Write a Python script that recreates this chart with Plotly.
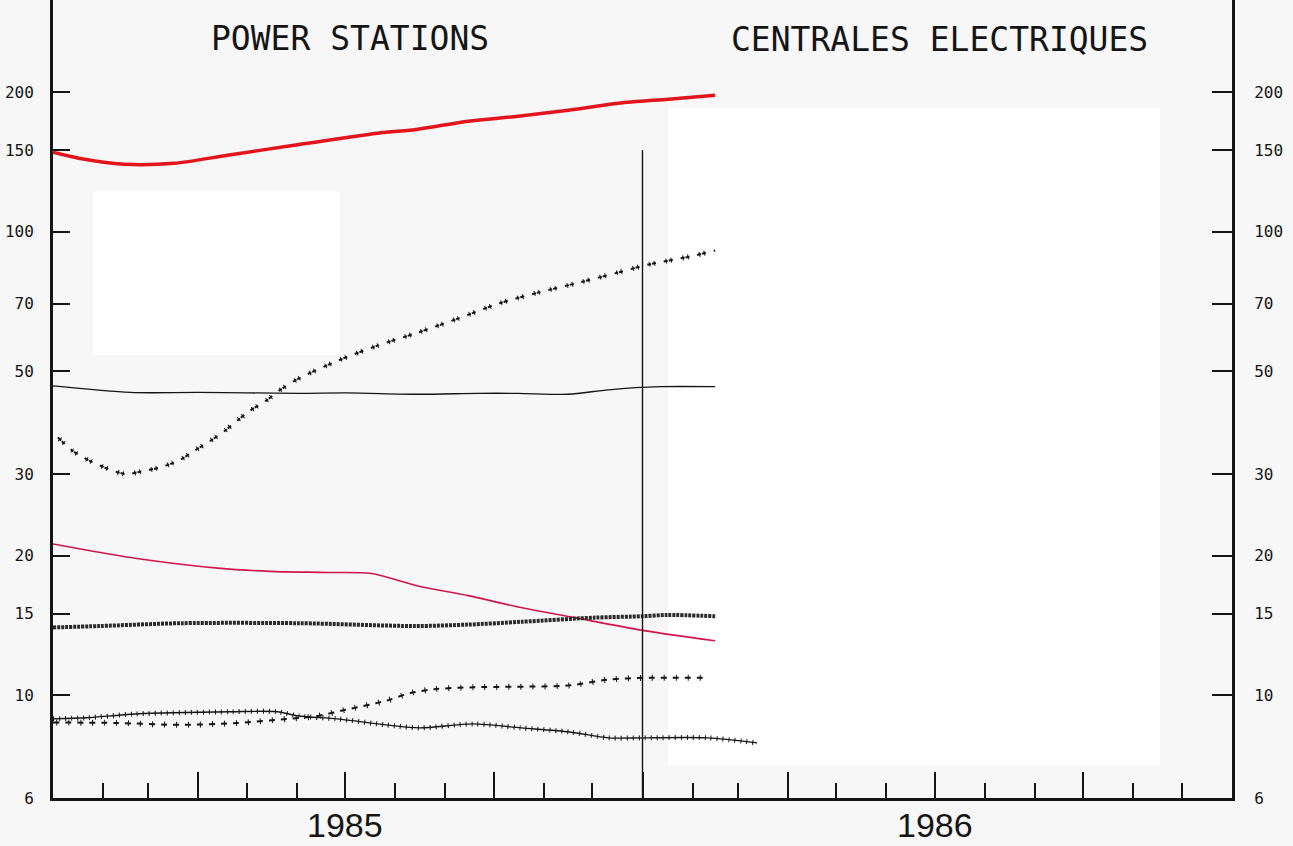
import math

import plotly.graph_objects as go

# ---- data (log scale values) ----
red_dates = ["1985-01-01", "1985-01-17", "1985-02-14", "1985-03-17", "1985-04-19",
             "1985-05-26", "1985-07-21", "1985-08-15", "1985-09-15", "1985-10-16",
             "1985-11-16", "1985-12-17", "1986-01-17", "1986-02-15"]
red_vals = [148.4, 144.0, 139.8, 140.5, 146.2, 152.9, 163.1, 166.4, 173.2, 177.5,
            182.9, 189.3, 193.2, 197.0]

black_dates = ["1985-01-01", "1985-02-18", "1985-04-01", "1985-06-02", "1985-07-02",
               "1985-08-15", "1985-09-21", "1985-10-16", "1985-11-16", "1985-12-11",
               "1986-01-12", "1986-02-15"]
black_vals = [46.5, 45.0, 45.0, 44.8, 44.9, 44.6, 44.8, 44.8, 44.6, 45.6, 46.3, 46.3]

pair_dates = ["1985-01-04", "1985-01-13", "1985-01-24", "1985-02-04", "1985-02-15",
              "1985-02-25", "1985-03-08", "1985-03-20", "1985-03-29", "1985-04-08",
              "1985-04-17", "1985-04-25", "1985-05-03", "1985-05-13", "1985-05-21",
              "1985-06-02", "1985-06-27", "1985-07-21", "1985-08-15", "1985-09-09",
              "1985-10-04", "1985-10-29", "1985-11-23", "1985-12-17", "1986-01-05",
              "1986-01-31", "1986-02-15"]
pair_vals = [36.0, 33.7, 32.0, 30.8, 30.0, 30.4, 31.0, 32.1, 33.6, 35.3, 37.1, 39.1,
             41.1, 43.2, 45.4, 48.2, 52.8, 56.8, 60.6, 65.0, 70.0, 74.0, 77.7, 81.7,
             85.0, 88.5, 91.1]

crim_dates = ["1985-01-01", "1985-01-24", "1985-02-23", "1985-04-13", "1985-05-15",
              "1985-06-20", "1985-07-17", "1985-08-15", "1985-09-15", "1985-10-16",
              "1985-11-20", "1986-01-01", "1986-02-15"]
crim_vals = [21.2, 20.5, 19.7, 18.8, 18.5, 18.4, 18.3, 17.2, 16.4, 15.5, 14.7, 13.8, 13.1]

sq_dates = ["1985-01-01", "1985-01-30", "1985-03-21", "1985-06-02", "1985-08-13",
            "1985-09-15", "1985-10-18", "1985-12-02", "1986-01-01", "1986-01-16",
            "1986-02-15"]
sq_vals = [14.0, 14.1, 14.3, 14.3, 14.1, 14.2, 14.4, 14.7, 14.8, 14.9, 14.8]

sparse_dates = ["1985-01-01", "1985-02-09", "1985-03-21", "1985-04-25", "1985-05-26",
                "1985-06-14", "1985-07-01", "1985-07-26", "1985-08-10", "1985-08-25",
                "1985-09-18", "1985-11-17", "1985-12-10", "1986-01-02", "1986-02-10"]
sparse_vals = [8.73, 8.71, 8.63, 8.71, 8.89, 9.02, 9.30, 9.72, 10.1, 10.3, 10.4, 10.5,
               10.8, 10.9, 10.9]

low_dates = ["1985-01-01", "1985-01-22", "1985-02-21", "1985-04-21", "1985-05-20",
             "1985-06-02", "1985-06-26", "1985-07-26", "1985-08-16", "1985-09-18",
             "1985-10-18", "1985-11-17", "1985-12-11", "1986-01-02", "1986-02-10",
             "1986-03-13"]
low_vals = [8.89, 8.94, 9.11, 9.21, 9.21, 9.02, 8.89, 8.63, 8.50, 8.67, 8.50, 8.33,
            8.09, 8.09, 8.09, 7.89]

year_break = "1986-01-01"
y_ticks = [6, 10, 15, 20, 30, 50, 70, 100, 150, 200]
year_labels = ["1985", "1986"]
year_mid = ["1985-07-01", "1986-07-01"]

INK = "#151515"
BG = "#f7f7f7"
MONO = "DejaVu Sans Mono"


def line_trace(x, y, color, width, dash="solid", yaxis="y"):
    return go.Scatter(
        x=x, y=y, mode="lines", yaxis=yaxis, showlegend=False, hoverinfo="skip",
        line=dict(color=color, width=width, dash=dash, shape="spline", smoothing=0.8),
    )


def plus_traces(x, y, h_dash, v_dash, v_width, h_width=2):
    # crosses drawn as two dash patterns along the same path
    return [
        line_trace(x, y, INK, h_width, h_dash),
        line_trace(x, y, INK, v_width, v_dash),
    ]


fig = go.Figure()

fig.add_trace(line_trace(black_dates, black_vals, INK, 1.3))
fig.add_trace(line_trace(crim_dates, crim_vals, "#d0164a", 1.6))
fig.add_trace(line_trace(sq_dates, sq_vals, "#2a2a2a", 4, "3px,1px"))
for tr in plus_traces(pair_dates, pair_vals, "4px,1px,4px,8px",
                      "0px,2px,1px,4px,1px,9px", 5):
    fig.add_trace(tr)
for tr in plus_traces(sparse_dates, sparse_vals, "6px,6px", "0px,3px,1px,8px", 6):
    fig.add_trace(tr)
for tr in plus_traces(low_dates, low_vals, "solid", "1px,5px", 5, 1.4):
    fig.add_trace(tr)
fig.add_trace(line_trace(red_dates, red_vals, "#e3141c", 3.5))

# year divider
fig.add_trace(go.Scatter(
    x=[year_break, year_break], y=[y_ticks[0], 150], mode="lines", yaxis="y2",
    showlegend=False, hoverinfo="skip", line=dict(color=INK, width=1.4),
))

y_range = [math.log10(6), 2.5]

axis_common = dict(
    type="log",
    range=y_range,
    tickmode="array",
    tickvals=y_ticks,
    ticktext=[str(v) for v in y_ticks],
    ticks="inside",
    tickwidth=1.5,
    tickcolor=INK,
    tickfont=dict(family=MONO, size=16, color=INK),
    showgrid=False,
    zeroline=False,
    showline=True,
    linewidth=3,
    linecolor=INK,
)

fig.update_layout(
    width=1293,
    height=846,
    margin=dict(l=53, r=61, t=0, b=48),
    paper_bgcolor=BG,
    plot_bgcolor=BG,
    xaxis=dict(
        type="date",
        range=["1985-01-01", "1987-01-01"],
        tickmode="linear",
        tick0="1985-01-01",
        dtick="M3",
        ticks="inside",
        ticklen=26,
        tickwidth=1.5,
        tickcolor=INK,
        showticklabels=False,
        showgrid=False,
        zeroline=False,
        showline=True,
        linewidth=3,
        linecolor=INK,
        minor=dict(dtick="M1", tick0="1985-01-01", ticks="inside", ticklen=15,
                   tickwidth=1.5, tickcolor=INK, showgrid=False),
    ),
    yaxis=dict(axis_common, ticklen=17, ticklabelstandoff=13),
    yaxis2=dict(axis_common, overlaying="y", side="right", ticklen=20,
                ticklabelstandoff=16),
    shapes=[
        dict(type="rect", xref="paper", yref="paper", x0=0.522, x1=0.939,
             y0=0.041, y1=0.865, fillcolor="white", line_width=0, layer="below"),
        dict(type="rect", xref="paper", yref="paper", x0=0.034, x1=0.243,
             y0=0.555, y1=0.76, fillcolor="white", line_width=0, layer="below"),
    ],
)

fig.add_annotation(text="POWER STATIONS", xref="paper", yref="paper", x=0.2515, y=0.952,
                   xanchor="center", yanchor="middle", showarrow=False,
                   font=dict(family=MONO, size=33, color=INK))
fig.add_annotation(text="CENTRALES ELECTRIQUES", xref="paper", yref="paper", x=0.7515,
                   y=0.95, xanchor="center", yanchor="middle", showarrow=False,
                   font=dict(family=MONO, size=33, color=INK))

for label, mid in zip(year_labels, year_mid):
    fig.add_annotation(text=label, x=mid, xref="x", yref="paper", y=-0.034,
                       xanchor="center", yanchor="middle", showarrow=False,
                       font=dict(family="Liberation Sans Narrow, Liberation Sans",
                                 size=34, color=INK))

fig.write_html("out.html", config={"displayModeBar": False},
               post_script="document.body.style.margin = '0px';")
